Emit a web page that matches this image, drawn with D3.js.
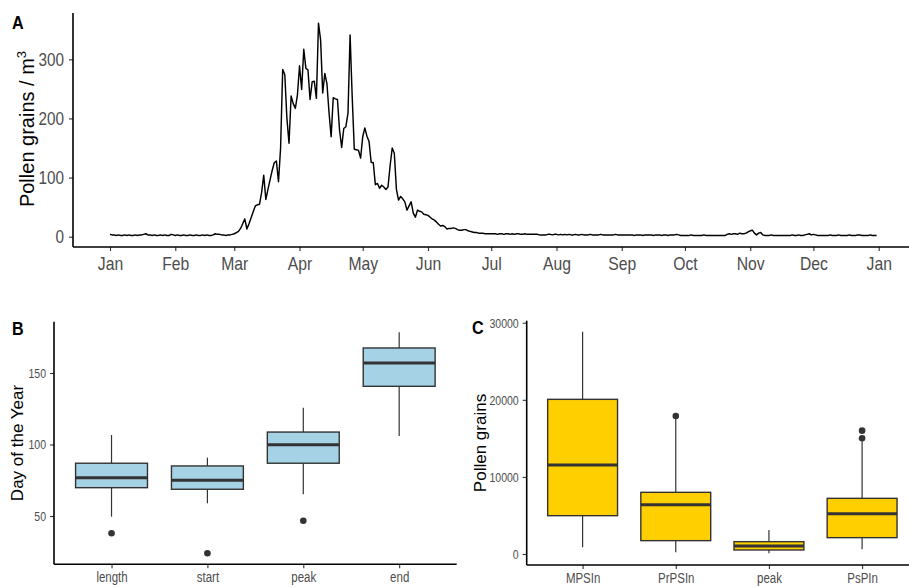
<!DOCTYPE html>
<html>
<head>
<meta charset="utf-8">
<script src="https://cdn.jsdelivr.net/npm/d3@7"></script>
<style>
  body { margin: 0; background: #fff; }
  svg { display: block; }
</style>
</head>
<body>
<div class="chart"></div>
<script>
// ---- panel A: daily pollen concentration (grains / m3), one value per day ----
const jan = [4,3,3,2,3,2,2,3,2,3,2,2,3,2,3,3,4,5,3,3,2,3,2,2,3,2,3,2,2,4,3];
const feb = [2,3,2,2,3,2,2,3,2,2,3,2,2,3,2,3,2,2,3,5,4,4,3,3,2,3,3,4];
const mar = [5,7,9,14,22,30,13,22,32,42,52,54,55,75,104,63,80,96,112,125,128,93,150,283,274,200,158,238,225,217,240];
const apr = [289,249,317,285,282,232,262,263,234,361,333,243,276,259,210,169,235,233,232,180,151,183,186,209,341,237,148,147,146,133];
const may = [169,184,170,161,126,125,88,90,82,87,84,80,84,120,150,141,80,62,68,64,59,45,52,59,40,33,45,43,42,38,37];
const jun = [36,33,30,28,25,21,18,19,17,13,14,14,15,14,12,11,11,12,12,10,9,8,7,7,6,6,6,5,5,5];
const jul = [5,5,5,4,5,5,4,5,5,4,5,4,5,5,4,4,5,4,4,4,4,4,4,3,3,3,3,4,4,3,4];
const aug = [4,3,4,3,4,3,4,3,3,4,3,3,4,3,3,3,4,3,3,3,3,4,3,3,3,3,3,3,4,3,3];
const sep = [3,3,3,3,3,3,2,3,3,3,2,3,3,3,3,2,3,3,3,2,3,3,2,3,3,3,4,3,2,2];
const oct = [2,2,2,3,2,2,2,2,2,3,2,2,2,2,2,2,2,2,2,2,4,5,4,5,5,4,6,5,5,6,8];
const nov = [10,11,6,3,6,7,3,2,2,2,3,2,2,2,2,2,2,2,2,2,3,2,2,3,2,2,3,4,5,3];
const dec = [4,3,2,2,2,2,2,2,3,2,2,2,3,2,2,2,2,3,2,2,2,3,3,2,2,2,2,3,2,2,2];
const yTicksA = [0, 100, 200, 300];

// ---- panel B: season parameters (day of the year) ----
const seasonCats = ["length", "start", "peak", "end"];
const seasonQ1 = [69.8, 68.7, 86.9, 140.7];
const seasonMed = [76.8, 75.0, 99.9, 157.0];
const seasonQ3 = [86.9, 85.0, 108.7, 167.5];
const seasonLo = [49.5, 58.9, 65.2, 105.9];
const seasonHi = [106.6, 90.8, 125.7, 178.5];
const seasonOut = [[37.9], [23.9], [46.7], []];
const yTicksB = [50, 100, 150];

// ---- panel C: pollen integrals ----
const integCats = ["MPSIn", "PrPSIn", "peak", "PsPIn"];
const integQ1 = [4970, 1730, 520, 2120];
const integMed = [11540, 6400, 1040, 5230];
const integQ3 = [20060, 8000, 1600, 7220];
const integLo = [870, 220, 90, 600];
const integHi = [28830, 17500, 3110, 14600];
const integOut = [[], [17900], [], [15000, 16000]];
const yTicksC = [0, 10000, 20000, 30000];

const W = 909, H = 587;
const SANS = "'Liberation Sans', Arial, sans-serif";
const tickCol = "#4d4d4d";

const svg = d3.select(".chart").append("svg")
  .attr("width", W).attr("height", H);

// the reference uses a condensed face; squeeze the glyphs horizontally
function squeeze(sel, k) {
  sel.each(function () {
    const len = this.getComputedTextLength();
    d3.select(this).attr("textLength", len * k).attr("lengthAdjust", "spacingAndGlyphs");
  });
}

function styleTicks(a, size, k) {
  a.select(".domain").remove();
  a.selectAll("line").attr("stroke", "#333").attr("stroke-width", 1.1);
  a.selectAll("text").attr("fill", tickCol).attr("font-family", SANS).attr("font-size", size)
    .call(squeeze, k);
}

// ================= panel A =================
const daily = [].concat(jan, feb, mar, apr, may, jun, jul, aug, sep, oct, nov, dec);
const day0 = new Date(Date.UTC(2019, 0, 1));
const series = daily.map((v, i) => ({date: d3.utcDay.offset(day0, i), v}));

const xA = d3.scaleUtc()
  .domain([day0, d3.utcDay.offset(day0, 364)])
  .range([110, 876.6]);
const yA = d3.scaleLinear().domain([0, 300]).range([236.7, 59.3]);

const monthTicks = d3.range(13).map(m => new Date(Date.UTC(2019, m, 1)));

const gA = svg.append("g");
gA.append("g")
  .attr("transform", "translate(0,247)")
  .call(d3.axisBottom(xA).tickValues(monthTicks).tickFormat(d3.utcFormat("%b")).tickSize(4).tickPadding(6))
  .call(styleTicks, 18.5, 0.85);
gA.append("g")
  .attr("transform", "translate(73,0)")
  .call(d3.axisLeft(yA).tickValues(yTicksA).tickSize(4).tickPadding(5))
  .call(styleTicks, 18, 0.85);
gA.append("line").attr("x1", 73).attr("x2", W).attr("y1", 247).attr("y2", 247)
  .attr("stroke", "#000").attr("stroke-width", 1.6);
gA.append("line").attr("x1", 73).attr("x2", 73).attr("y1", 13).attr("y2", 247)
  .attr("stroke", "#000").attr("stroke-width", 1.6);

gA.append("path")
  .datum(series)
  .attr("fill", "none")
  .attr("stroke", "#000")
  .attr("stroke-width", 1.45)
  .attr("stroke-linejoin", "round")
  .attr("d", d3.line().x(d => xA(d.date)).y(d => yA(d.v)));

const titleA = gA.append("text")
  .attr("transform", "translate(34,129) rotate(-90)")
  .attr("text-anchor", "middle")
  .attr("font-family", SANS).attr("font-size", 20).attr("fill", "#000");
titleA.append("tspan").text("Pollen grains / m");
titleA.append("tspan").attr("font-size", 13).attr("dy", -8).text("3");

gA.append("text").attr("x", 12).attr("y", 29)
  .attr("font-family", SANS).attr("font-weight", "bold").attr("font-size", 19).text("A")
  .call(squeeze, 0.85);

// ================= box plot helper =================
function boxPanel(opt) {
  const g = svg.append("g");
  const x = d3.scalePoint().domain(opt.cats).range([opt.x0, opt.x1]).padding(0.6);
  const bw = x.step() * 0.75;
  const y = opt.y;

  g.append("g")
    .attr("transform", `translate(0,${opt.base})`)
    .call(d3.axisBottom(x).tickSize(4).tickPadding(4))
    .call(styleTicks, 14, 0.82);
  g.append("g")
    .attr("transform", `translate(${opt.x0},0)`)
    .call(d3.axisLeft(y).tickValues(opt.ticks).tickFormat(d3.format("d")).tickSize(4).tickPadding(4))
    .call(styleTicks, 13.5, 0.78);
  g.append("line").attr("x1", opt.x0).attr("x2", Math.min(opt.x1, W)).attr("y1", opt.base).attr("y2", opt.base)
    .attr("stroke", "#000").attr("stroke-width", 1.6);
  g.append("line").attr("x1", opt.x0).attr("x2", opt.x0).attr("y1", opt.top).attr("y2", opt.base)
    .attr("stroke", "#000").attr("stroke-width", 1.6);

  const rows = opt.cats.map((c, i) => ({
    c, q1: opt.q1[i], med: opt.med[i], q3: opt.q3[i], lo: opt.lo[i], hi: opt.hi[i], out: opt.out[i]
  }));
  const b = g.selectAll("g.box").data(rows).join("g").attr("class", "box");
  b.append("line")
    .attr("x1", d => x(d.c)).attr("x2", d => x(d.c))
    .attr("y1", d => y(d.hi)).attr("y2", d => y(d.lo))
    .attr("stroke", "#333").attr("stroke-width", 1.2);
  b.append("rect")
    .attr("x", d => x(d.c) - bw / 2).attr("width", bw)
    .attr("y", d => y(d.q3)).attr("height", d => y(d.q1) - y(d.q3))
    .attr("fill", opt.fill).attr("stroke", "#333").attr("stroke-width", 1.4);
  b.append("line")
    .attr("x1", d => x(d.c) - bw / 2).attr("x2", d => x(d.c) + bw / 2)
    .attr("y1", d => y(d.med)).attr("y2", d => y(d.med))
    .attr("stroke", "#333").attr("stroke-width", 3);
  b.selectAll("circle").data(d => d.out.map(v => ({c: d.c, v}))).join("circle")
    .attr("cx", d => x(d.c)).attr("cy", d => y(d.v)).attr("r", 3.3)
    .attr("fill", "#333");

  g.append("text")
    .attr("transform", `translate(${opt.titleX},${opt.titleY}) rotate(-90)`)
    .attr("text-anchor", "middle")
    .attr("font-family", SANS).attr("font-size", 17).attr("fill", "#000")
    .text(opt.title);
  g.append("text").attr("x", opt.labelX).attr("y", opt.labelY)
    .attr("font-family", SANS).attr("font-weight", "bold").attr("font-size", 19).text(opt.label)
    .call(squeeze, 0.85);
}

// ================= panel B =================
boxPanel({
  cats: seasonCats, q1: seasonQ1, med: seasonMed, q3: seasonQ3, lo: seasonLo, hi: seasonHi, out: seasonOut,
  x0: 54, x1: 456.7, top: 321.7, base: 564.3,
  y: d3.scaleLinear().domain([50, 150]).range([516, 373]),
  ticks: yTicksB, fill: "#a6d2e6",
  title: "Day of the Year", titleX: 23, titleY: 443,
  label: "B", labelX: 12, labelY: 335
});

// ================= panel C =================
boxPanel({
  cats: integCats, q1: integQ1, med: integMed, q3: integQ3, lo: integLo, hi: integHi, out: integOut,
  x0: 526.7, x1: 918, top: 320.7, base: 565,
  y: d3.scaleLinear().domain([0, 30000]).range([554, 322.7]),
  ticks: yTicksC, fill: "#ffcf00",
  title: "Pollen grains", titleX: 486, titleY: 443,
  label: "C", labelX: 472, labelY: 334
});
</script>
</body>
</html>
